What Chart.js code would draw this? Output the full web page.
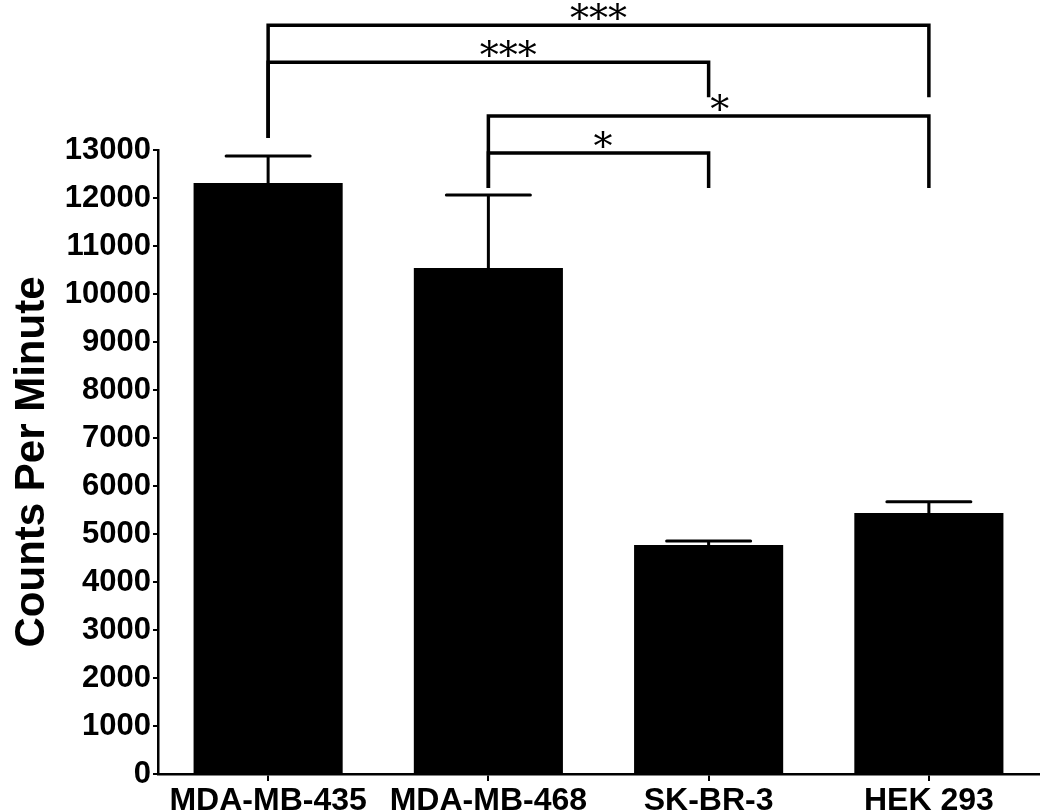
<!DOCTYPE html>
<html>
<head>
<meta charset="utf-8">
<script src="https://cdn.jsdelivr.net/npm/chart.js@4/dist/chart.umd.min.js"></script>
<style>
  html, body { margin: 0; padding: 0; background: #fff; }
  canvas { display: block; }
</style>
</head>
<body>
<canvas id="cpmChart" width="1050" height="812"></canvas>
<script>
// Data
const categories = ['MDA-MB-435', 'MDA-MB-468', 'SK-BR-3', 'HEK 293'];
const cpmMean = [12310, 10540, 4770, 5440];
const cpmError = [565, 1520, 85, 230];
const yMin = 0;
const yMax = 13000;
const yStep = 1000;

// Significance brackets (category indices, levels in counts per minute)
const bracketFrom = [0, 0, 1, 1];
const bracketTo = [3, 2, 3, 2];
const bracketLevel = [15600, 14830, 13710, 12940];
const bracketLeftEnd = [13250, 13250, 12210, 12210];
const bracketRightEnd = [14100, 14100, 12210, 12210];
const bracketLabel = ['***', '***', '*', '*'];
const bracketLabelAt = [1.5, 1.09, 2.05, 1.52];

/**
 * Upward-only error bars with a cap
 */
const errorBars = {
    id: 'errorBars',
    afterDatasetsDraw(chart) {
        const ctx = chart.ctx;
        const y = chart.scales.y;
        const meta = chart.getDatasetMeta(0);
        ctx.save();
        ctx.strokeStyle = '#000';
        ctx.lineWidth = 3;
        ctx.lineCap = 'round';
        meta.data.forEach((bar, i) => {
            const top = y.getPixelForValue(cpmMean[i] + cpmError[i]);
            const base = y.getPixelForValue(cpmMean[i]);
            ctx.beginPath();
            ctx.moveTo(bar.x, base);
            ctx.lineTo(bar.x, top);
            ctx.moveTo(bar.x - 42, top);
            ctx.lineTo(bar.x + 42, top);
            ctx.stroke();
        });
        ctx.restore();
    }
};

/**
 * Brackets and asterisks above the bars
 */
const brackets = {
    id: 'brackets',
    afterDraw(chart) {
        const ctx = chart.ctx;
        const x = chart.scales.x;
        const y = chart.scales.y;
        ctx.save();
        ctx.strokeStyle = '#000';
        ctx.lineWidth = 3.5;
        ctx.lineCap = 'butt';
        ctx.lineJoin = 'miter';
        bracketLevel.forEach((level, i) => {
            const x1 = x.getPixelForValue(bracketFrom[i]);
            const x2 = x.getPixelForValue(bracketTo[i]);
            const yl = y.getPixelForValue(level);
            ctx.beginPath();
            ctx.moveTo(x1, y.getPixelForValue(bracketLeftEnd[i]));
            ctx.lineTo(x1, yl);
            ctx.lineTo(x2, yl);
            ctx.lineTo(x2, y.getPixelForValue(bracketRightEnd[i]));
            ctx.stroke();

            // asterisks
            ctx.fillStyle = '#000';
            ctx.font = '38px "DejaVu Serif", "Liberation Serif", serif';
            ctx.textAlign = 'center';
            ctx.textBaseline = 'alphabetic';
            ctx.fillText(bracketLabel[i], x.getPixelForValue(bracketLabelAt[i]), yl + 6);
        });
        ctx.restore();
    }
};

new Chart(document.getElementById('cpmChart'), {
    type: 'bar',
    data: {
        labels: categories,
        datasets: [{
            data: cpmMean,
            backgroundColor: '#000',
            borderWidth: 0,
            categoryPercentage: 1,
            barPercentage: 0.677
        }]
    },
    options: {
        responsive: false,
        animation: false,
        devicePixelRatio: 1,
        layout: { padding: { top: 150, right: 11, left: 0, bottom: 0 } },
        plugins: {
            legend: { display: false },
            tooltip: { enabled: false }
        },
        scales: {
            x: {
                afterFit(scale) { scale.height = 38; },
                border: { display: true, color: '#000', width: 2.5 },
                grid: {
                    offset: false,
                    drawOnChartArea: false,
                    drawTicks: true,
                    tickLength: 7,
                    color: '#000',
                    lineWidth: 2
                },
                ticks: {
                    color: '#000',
                    padding: 1,
                    maxRotation: 0,
                    autoSkip: false,
                    font: { family: '"Liberation Sans", Arial, sans-serif', size: 32, weight: 'bold' }
                }
            },
            y: {
                min: yMin,
                max: yMax,
                afterFit(scale) { scale.width = 158; },
                border: { display: true, color: '#000', width: 2.5 },
                grid: {
                    drawOnChartArea: false,
                    drawTicks: true,
                    tickLength: 5,
                    color: '#000',
                    lineWidth: 2
                },
                ticks: {
                    stepSize: yStep,
                    color: '#000',
                    padding: 2,
                    callback: value => String(value),
                    font: { family: '"Liberation Sans", Arial, sans-serif', size: 31, weight: 'bold' }
                },
                title: {
                    display: true,
                    text: 'Counts Per Minute',
                    color: '#000',
                    padding: { top: 7, bottom: 0 },
                    font: { family: '"Liberation Sans", Arial, sans-serif', size: 42, weight: 'bold' }
                }
            }
        }
    },
    plugins: [errorBars, brackets]
});
</script>
</body>
</html>
